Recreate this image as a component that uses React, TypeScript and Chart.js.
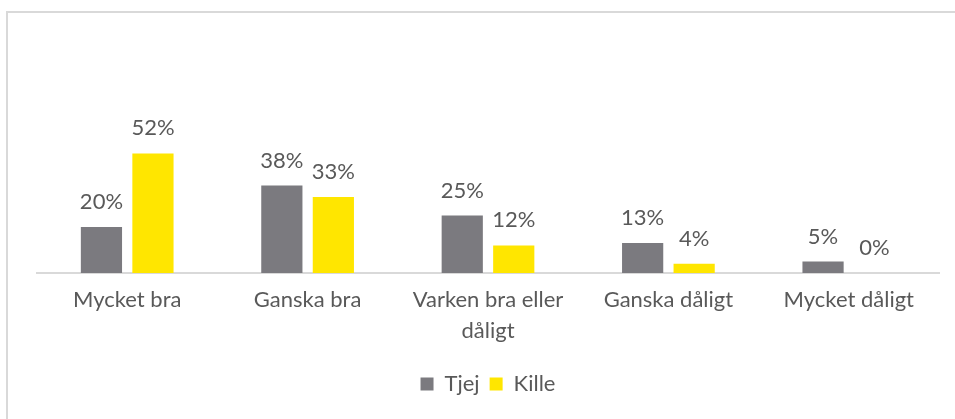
import React, { useEffect, useRef } from "react";
import { Chart, registerables } from "chart.js";

Chart.register(...registerables);

const categories: (string | string[])[] = [
  "Mycket bra",
  "Ganska bra",
  ["Varken bra eller", "dåligt"],
  "Ganska dåligt",
  "Mycket dåligt",
];
const tjejValues = [20, 38, 25, 13, 5];
const killeValues = [52, 33, 12, 4, 0];
const seriesNames = ["Tjej", "Kille"];

const FONT = "Lato, 'Open Sans', sans-serif";
const TEXT = "#595959";

const valueLabels = {
  id: "valueLabels",
  afterDatasetsDraw(chart: any) {
    const ctx = chart.ctx;
    ctx.save();
    ctx.font = `22px ${FONT}`;
    ctx.fillStyle = TEXT;
    ctx.textAlign = "center";
    ctx.textBaseline = "alphabetic";
    chart.data.datasets.forEach((ds: any, i: number) => {
      const meta = chart.getDatasetMeta(i);
      meta.data.forEach((bar: any, j: number) => {
        ctx.fillText(`${ds.data[j]}%`, bar.x, bar.y - 18);
      });
    });
    ctx.restore();
  },
};

export default function App() {
  const ref = useRef<HTMLCanvasElement | null>(null);
  useEffect(() => {
    if (!ref.current) return;
    const chart = new Chart(ref.current, {
      type: "bar",
      data: {
        labels: categories,
        datasets: [
          {
            label: seriesNames[0],
            data: tjejValues,
            backgroundColor: "#7b7a7f",
          },
          {
            label: seriesNames[1],
            data: killeValues,
            backgroundColor: "#ffe600",
          },
        ],
      },
      options: {
        animation: false,
        responsive: false,
        maintainAspectRatio: false,
        datasets: {
          bar: { barPercentage: 0.8, categoryPercentage: 0.571 },
        },
        layout: { padding: { top: 43, left: 37, right: 16, bottom: 14 } },
        plugins: {
          tooltip: { enabled: false },
          legend: {
            position: "bottom",
            labels: {
              boxWidth: 13,
              boxHeight: 13,
              padding: 10,
              color: TEXT,
              font: { family: FONT, size: 22 },
            },
          },
        },
        scales: {
          y: { display: false, min: 0, max: 100 },
          x: {
            grid: { display: false, drawTicks: false },
            border: { display: true, color: "#d9d9d9", width: 2 },
            ticks: {
              color: TEXT,
              padding: 12,
              maxRotation: 0,
              autoSkip: false,
              font: { family: FONT, size: 22, lineHeight: 1.38 },
            },
            afterFit: (scale: any) => {
              scale.height = 90;
            },
          },
        },
      },
      plugins: [valueLabels],
    });
    return () => chart.destroy();
  }, []);
  return (
    <div style={{ position: "fixed", left: 0, top: 0, width: 955, height: 419, background: "#fff", overflow: "hidden" }}>
      <div
        style={{
          position: "absolute",
          left: 6,
          top: 11,
          width: 960,
          height: 420,
          border: "2px solid #d9d9d9",
          boxSizing: "border-box",
        }}
      />
      <canvas ref={ref} width={955} height={419} style={{ position: "absolute", left: 0, top: 0 }} />
    </div>
  );
}
